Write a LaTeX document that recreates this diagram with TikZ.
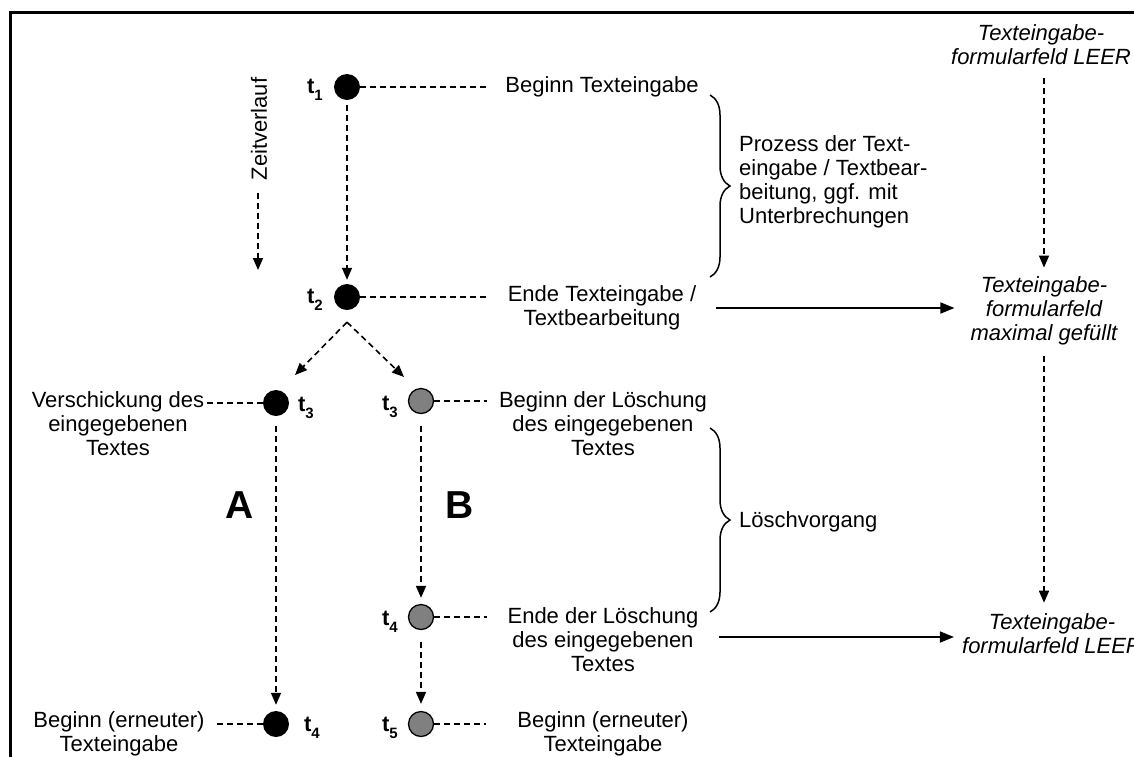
\documentclass[tikz,border=0pt]{standalone}
\usepackage{fontspec}
\setmainfont{Liberation Sans}
\usetikzlibrary{arrows.meta,decorations.pathreplacing,calc}
\definecolor{dotgray}{HTML}{808080}
\newcommand{\tlab}[1]{\textbf{t\raisebox{-0.3em}{\fontsize{15}{15}\selectfont\bfseries #1}}}
\begin{document}
\begin{tikzpicture}[x=1pt,y=-1pt,
  font=\fontsize{22}{24}\selectfont,
  bdot/.style={circle, fill=black, minimum size=26pt, inner sep=0pt},
  gdot/.style={circle, fill=dotgray, draw=black, line width=1.3pt, minimum size=25pt, inner sep=0pt},
  txt/.style={align=center, inner sep=2pt},
  itxt/.style={align=center, inner sep=2pt, font=\fontsize{22}{24}\selectfont\itshape},
  big/.style={font=\fontsize{39}{40}\selectfont\bfseries},
  dline/.style={dash pattern=on 6pt off 4pt, line width=1.6pt},
  darr/.style={dline, -{Triangle[length=12pt,width=10pt]}},
  sarr/.style={line width=1.6pt, -{Triangle[length=14pt,width=11pt]}},
  brc/.style={decorate, decoration={brace, amplitude=20pt}, line width=1.5pt}]
\clip (0,0) rectangle (1134,756);
% frame
\draw[line width=3pt] (10,770) -- (10,12) -- (1150,12);

% time points
\node[bdot] (t1) at (347,87) {};
\node[bdot] (t2) at (347,297) {};
\node[bdot] (t3a) at (276,403) {};
\node[bdot] (t4a) at (276,724) {};
\node[gdot] (t3b) at (421,401) {};
\node[gdot] (t4b) at (421,617) {};
\node[gdot] (t5b) at (421,724) {};

% t labels
\node (l1) at (315,90) {\tlab{1}};
\node (l2) at (315,300) {\tlab{2}};
\node (l3a) at (306,408) {\tlab{3}};
\node (l4a) at (312,728) {\tlab{4}};
\node (l3b) at (390,407) {\tlab{3}};
\node (l4b) at (390,622) {\tlab{4}};
\node (l5b) at (390,728) {\tlab{5}};

% texts
\node[txt] (bt) at (602,87) {Beginn Texteingabe};
\node[txt] (et) at (602,308) {Ende Texteingabe /\\Textbearbeitung};
\node[txt, align=left, anchor=west] (pz) at (737,182) {Prozess der Text-\\eingabe / Textbear-\\beitung, ggf. mit\\Unterbrechungen};
\node[itxt] (leer1) at (1041,45) {Texteingabe-\\formularfeld LEER};
\node[itxt] (max) at (1044,311) {Texteingabe-\\formularfeld\\maximal gefüllt};
\node[itxt] (leer2) at (1052,634) {Texteingabe-\\formularfeld LEER};
\node[txt] (vt) at (118,424) {Verschickung des\\eingegebenen\\Textes};
\node[txt] (bl) at (603,424) {Beginn der Löschung\\des eingegebenen\\Textes};
\node[txt, anchor=west] (lv) at (737,522) {Löschvorgang};
\node[txt] (el) at (603,640) {Ende der Löschung\\des eingegebenen\\Textes};
\node[txt] (bea) at (119,734) {Beginn (erneuter)\\Texteingabe};
\node[txt] (beb) at (603,734) {Beginn (erneuter)\\Texteingabe};
\node[txt, rotate=90] (zv) at (259,129) {Zeitverlauf};
\node[big] (A) at (240,505) {A};
\node[big] (B) at (460,505) {B};

% Zeitverlauf arrow
\coordinate (zvend) at (258,270);
\draw[darr, shorten <=10pt] (zv.west -| zvend) -- (zvend);

% horizontal dashed links
\draw[dline, shorten >=15pt] (t1.east) -- (t1 -| bt.west);
\draw[dline, shorten >=19pt] (t2.east) -- (t2 -| et.west);
\draw[dline] (t3a.west) -- (t3a -| vt.east);
\draw[dline, shorten >=9pt] (t4a.west) -- (t4a -| bea.east);
\draw[dline, shorten >=10pt] (t3b.east) -- (t3b -| bl.west);
\draw[dline, shorten >=18pt] (t4b.east) -- (t4b -| el.west);
\draw[dline, shorten >=29pt] (t5b.east) -- (t5b -| beb.west);

% vertical dashed arrows
\draw[darr, shorten <=5pt, shorten >=4pt] (t1.south) -- (t2.north);
\draw[darr, shorten <=10pt, shorten >=6pt] (t3a.south) -- (t4a.north);
\draw[darr, shorten <=12pt, shorten >=6pt] (t3b.south) -- (t4b.north);
\draw[darr, shorten <=12pt, shorten >=7pt] (t4b.south) -- (t5b.north);

% branches
\coordinate (brl) at (295,375);
\coordinate (brr) at (404,377);
\draw[darr] ([yshift=-12pt]t2.south) -- (brl);
\draw[darr] ([yshift=-12pt]t2.south) -- (brr);

% right column
\draw[darr, shorten <=11pt, shorten >=7pt] (leer1.south -| max.north) -- (max.north);
\draw[darr, shorten <=9pt, shorten >=9pt] (max.south) -- (leer2.north -| max.south);
\draw[sarr, shorten <=18pt, shorten >=14pt] (et.east) -- (et.east -| max.west);
\draw[sarr, shorten <=18pt, shorten >=6pt] ([yshift=3pt]el.east) -- ([yshift=3pt]el.east -| leer2.west);

% braces
\coordinate (b1t) at (710,95);
\coordinate (b1b) at (710,277);
\coordinate (b2t) at (710,428);
\coordinate (b2b) at (710,612);
\draw[brc] (b1t) -- (b1b);
\draw[brc] (b2t) -- (b2b);
\end{tikzpicture}
\end{document}
